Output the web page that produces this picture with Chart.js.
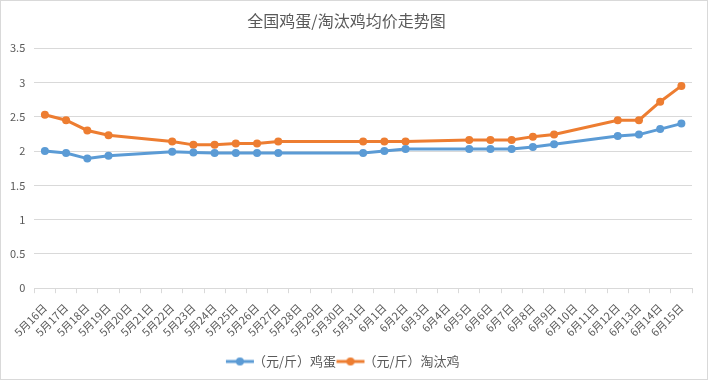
<!DOCTYPE html>
<html>
<head>
<meta charset="utf-8">
<script src="https://cdn.jsdelivr.net/npm/chart.js@4.4.1/dist/chart.umd.min.js"></script>
<style>
  body { margin: 0; background: #fff; }
  #wrap { width: 706px; height: 378px; border: 1px solid #d9d9d9; position: relative; }
</style>
</head>
<body>
<div id="wrap"><canvas id="grafica"></canvas></div>
<script>
// datos
var fechas = ["5月16日", "5月17日", "5月18日", "5月19日", "5月20日", "5月21日", "5月22日", "5月23日",
  "5月24日", "5月25日", "5月26日", "5月27日", "5月28日", "5月29日", "5月30日", "5月31日",
  "6月1日", "6月2日", "6月3日", "6月4日", "6月5日", "6月6日", "6月7日", "6月8日", "6月9日",
  "6月10日", "6月11日", "6月12日", "6月13日", "6月14日", "6月15日"];

var huevo = [2.00, 1.97, 1.89, 1.93, null, null, 1.99, 1.98, 1.97, 1.97, 1.97, 1.97, null, null, null, 1.97,
  2.00, 2.03, null, null, 2.03, 2.03, 2.03, 2.06, 2.10, null, null, 2.22, 2.24, 2.32, 2.40];

var gallina = [2.53, 2.45, 2.30, 2.23, null, null, 2.14, 2.09, 2.09, 2.11, 2.11, 2.14, null, null, null, 2.14,
  2.14, 2.14, null, null, 2.16, 2.16, 2.16, 2.21, 2.24, null, null, 2.45, 2.45, 2.72, 2.95];

var nombres = ["（元/斤）鸡蛋", "（元/斤）淘汰鸡"];
var colores = ["#5B9BD5", "#ED7D31"];
var titulo = "全国鸡蛋/淘汰鸡均价走势图";

var fuente = "'Noto Sans CJK SC', 'Noto Sans', sans-serif";

// icono de leyenda: linea con punto
function iconoLeyenda(color) {
  var c = document.createElement("canvas");
  c.width = 30;
  c.height = 10;
  var ctx = c.getContext("2d");
  ctx.strokeStyle = color;
  ctx.lineWidth = 3;
  ctx.beginPath();
  ctx.moveTo(1, 5);
  ctx.lineTo(29, 5);
  ctx.stroke();
  ctx.fillStyle = color;
  ctx.beginPath();
  ctx.arc(15, 5, 4, 0, Math.PI * 2);
  ctx.fill();
  return c;
}

function crearSerie(label, data, color) {
  return {
    label: label,
    data: data,
    borderColor: color,
    backgroundColor: color,
    borderWidth: 3,
    pointRadius: 4,
    pointBorderWidth: 0,
    pointBackgroundColor: color,
    pointStyle: "circle",
    spanGaps: true,
    tension: 0,
  };
}

var ctx = document.getElementById("grafica").getContext("2d");

new Chart(ctx, {
  type: "line",
  data: {
    labels: fechas,
    datasets: [crearSerie(nombres[0], huevo, colores[0]), crearSerie(nombres[1], gallina, colores[1])],
  },
  options: {
    responsive: true,
    maintainAspectRatio: false,
    animation: false,
    layout: { padding: { left: 0, right: 15, top: 4, bottom: 1 } },
    plugins: {
      title: {
        display: true,
        text: titulo,
        color: "#595959",
        font: { family: fuente, size: 16, weight: "normal" },
        padding: { top: 6, bottom: 18 },
      },
      legend: {
        position: "bottom",
        labels: {
          color: "#595959",
          font: { family: fuente, size: 13 },
          usePointStyle: true,
          boxWidth: 30,
          boxHeight: 10,
          padding: 8,
          generateLabels: function (chart) {
            return chart.data.datasets.map(function (ds, i) {
              return {
                text: ds.label,
                fillStyle: colores[i],
                strokeStyle: colores[i],
                lineWidth: 0,
                pointStyle: iconoLeyenda(colores[i]),
                fontColor: "#595959",
                datasetIndex: i,
              };
            });
          },
        },
      },
      tooltip: { enabled: false },
    },
    scales: {
      x: {
        offset: true,
        border: { color: "#d9d9d9" },
        grid: {
          offset: true,
          drawOnChartArea: false,
          drawTicks: true,
          tickLength: 5,
          color: "#d9d9d9",
        },
        ticks: {
          color: "#595959",
          font: { family: fuente, size: 11 },
          minRotation: 45,
          maxRotation: 45,
          autoSkip: false,
          padding: 8,
        },
      },
      y: {
        min: 0,
        max: 3.5,
        border: { display: false },
        grid: { color: "#d9d9d9", drawTicks: false },
        ticks: {
          stepSize: 0.5,
          color: "#595959",
          font: { family: fuente, size: 11 },
          padding: 9,
          callback: function (v) {
            return String(v);
          },
        },
      },
    },
  },
});
</script>
</body>
</html>
